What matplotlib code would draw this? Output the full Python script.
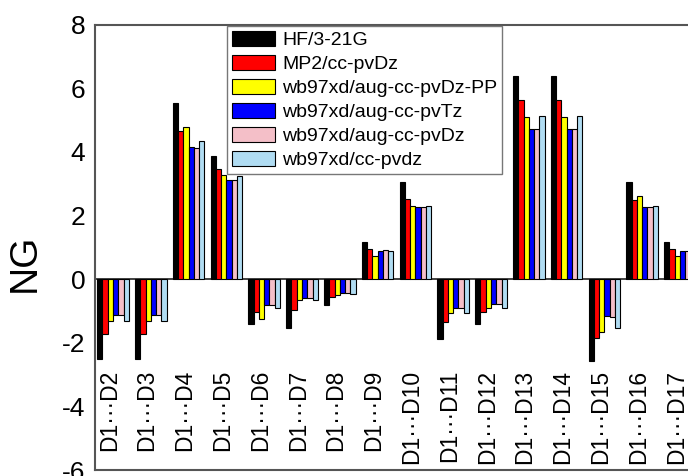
import matplotlib.pyplot as plt
import numpy as np

plt.rcParams['font.family'] = ['Liberation Sans', 'DejaVu Sans']
plt.rcParams['axes.unicode_minus'] = False

pairs = ['D1···D2', 'D1···D3', 'D1···D4', 'D1···D5', 'D1···D6', 'D1···D7', 'D1···D8', 'D1···D9',
         'D1···D10', 'D1···D11', 'D1···D12', 'D1···D13', 'D1···D14', 'D1···D15', 'D1···D16', 'D1···D17']

methods = ['HF/3-21G', 'MP2/cc-pvDz', 'wb97xd/aug-cc-pvDz-PP',
           'wb97xd/aug-cc-pvTz', 'wb97xd/aug-cc-pvDz', 'wb97xd/cc-pvdz']
colors = ['#000000', '#ff0000', '#ffff00', '#0000ff', '#f4bfc8', '#b0dcf2']

hf      = [-2.52, -2.52, 5.55, 3.88, -1.41, -1.55, -0.80, 1.18, 3.06, -1.88, -1.41, 6.40, 6.40, -2.56, 3.05, 1.18]
mp2     = [-1.72, -1.72, 4.66, 3.46, -1.04, -0.97, -0.57, 0.95, 2.52, -1.36, -1.04, 5.64, 5.64, -1.84, 2.50, 0.96]
wb_pp   = [-1.30, -1.30, 4.77, 3.28, -1.24, -0.66, -0.50, 0.73, 2.30, -1.05, -0.91, 5.11, 5.11, -1.67, 2.62, 0.74]
wb_tz   = [-1.14, -1.14, 4.16, 3.12, -0.80, -0.60, -0.42, 0.90, 2.27, -0.91, -0.79, 4.73, 4.73, -1.17, 2.27, 0.90]
wb_adz  = [-1.14, -1.14, 4.13, 3.12, -0.80, -0.60, -0.42, 0.92, 2.27, -0.91, -0.79, 4.71, 4.71, -1.18, 2.27, 0.90]
wb_ccdz = [-1.32, -1.32, 4.35, 3.24, -0.90, -0.66, -0.46, 0.87, 2.31, -1.05, -0.90, 5.14, 5.14, -1.54, 2.30, 0.90]
series = [hf, mp2, wb_pp, wb_tz, wb_adz, wb_ccdz]

fig = plt.figure(figsize=(6.88, 4.76), dpi=100)
# axes runs past the right edge, as in the cropped original
ax = fig.add_axes([95/688, 6/476, 610/688, 445.3/476])

x = np.arange(len(pairs))
w = 0.14
for k, (vals, name, c) in enumerate(zip(series, methods, colors)):
    ax.bar(x + (k - 2.5) * w, vals, w, color=c, edgecolor='black', linewidth=0.8,
           label=name, zorder=3)

ax.axhline(0, color='#333333', lw=1.3, zorder=2)

ax.set_xlim(-0.476, -0.476 + 610/37.8)
ax.set_ylim(-6, 8)
ax.set_yticks(np.arange(-6, 9, 2))
ax.set_xticks([])
ax.tick_params(axis='y', length=0, pad=7, labelsize=19)
for s in ax.spines.values():
    s.set_color('#555555')
    s.set_linewidth(1.5)
ax.spines['right'].set_visible(False)

for i, lab in enumerate(pairs):
    ax.text(i - 0.1, -2.85, lab, rotation=90, ha='center', va='top', fontsize=16.5)

ax.set_ylabel('NG', fontsize=28)
ax.yaxis.set_label_coords(-0.085, 0.465)

leg = ax.legend(loc='upper left', bbox_to_anchor=(227/688, 1 - 26/476),
                bbox_transform=fig.transFigure, borderaxespad=0, fontsize=14,
                fancybox=False, framealpha=1, edgecolor='#777777',
                handlelength=2.2, handleheight=0.8, labelspacing=0.3,
                handletextpad=0.4, borderpad=0.25)
leg.get_frame().set_linewidth(1.0)

fig.savefig('out.png', dpi=100)
